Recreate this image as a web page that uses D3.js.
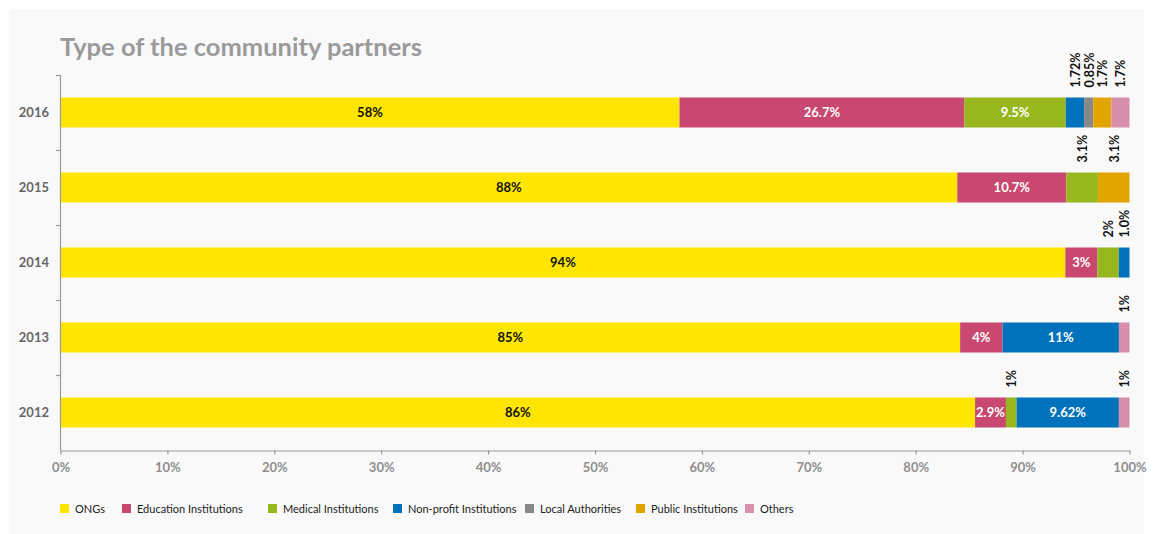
<!DOCTYPE html>
<html><head><meta charset="utf-8">
<script src="https://cdn.jsdelivr.net/npm/d3@7"></script>
<style>body{margin:0;background:#fff;}svg{display:block;font-family:Lato,"Open Sans",sans-serif;}</style>
</head><body><svg id="c" width="1154" height="534"></svg>
<script>
const years = ["2016","2015","2014","2013","2012"];
const seriesNames = ["ONGs","Education Institutions","Medical Institutions","Non-profit Institutions","Local Authorities","Public Institutions","Others"];
const seriesColors = ["#FFE600","#C9486F","#98B71E","#0072BB","#888888","#E2A500","#D88FAC"];
const ongs       = [58, 88, 94, 85, 86];
const education  = [26.7, 10.7, 3, 4, 2.9];
const medical    = [9.5, 3.1, 2, 0, 1];
const nonprofit  = [1.72, 0, 1.0, 11, 9.62];
const localAuth  = [0.85, 0, 0, 0, 0];
const publicInst = [1.7, 3.1, 0, 0, 0];
const others     = [1.7, 0, 0, 1, 1];
const valueLabels = [
  ["58%","26.7%","9.5%","1.72%","0.85%","1.7%","1.7%"],
  ["88%","10.7%","3.1%","","","3.1%",""],
  ["94%","3%","2%","1.0%","","",""],
  ["85%","4%","","11%","","","1%"],
  ["86%","2.9%","1%","9.62%","","","1%"]
];
// labels drawn rotated above the bar: [yearIndex, seriesIndex]
const outsideLabels = [[0,3],[0,4],[0,5],[0,6],[1,2],[1,5],[2,2],[2,3],[3,6],[4,2],[4,6]];
const xTicks = [0,10,20,30,40,50,60,70,80,90,100];
const title = "Type of the community partners";

const seriesData = [ongs, education, medical, nonprofit, localAuth, publicInst, others];
const table = years.map((y,i)=>{const o={year:y,i:i};seriesNames.forEach((s,j)=>o[s]=seriesData[j][i]);return o;});

const svg = d3.select("#c");
svg.append("rect").attr("x",9).attr("y",9).attr("width",1135).attr("height",525).attr("fill","#f9f9f9");

const x = d3.scaleLinear().domain([0,1]).range([60.5,1129.5]);
const y = d3.scaleBand().domain(years).range([75,450]).paddingInner(0.6).paddingOuter(0.3);

svg.append("text").attr("x",60).attr("y",56).attr("font-size",25.5).attr("font-weight",700)
  .attr("fill","#9a9a9a").text(title);

const stack = d3.stack().keys(seriesNames).offset(d3.stackOffsetExpand);
const stacked = stack(table);

const g = svg.append("g");
stacked.forEach((layer,j)=>{
  g.selectAll(null).data(layer).join("rect")
    .attr("x",d=>x(d[0])).attr("width",d=>Math.max(0,x(d[1])-x(d[0])))
    .attr("y",d=>y(d.data.year)).attr("height",y.bandwidth())
    .attr("fill",seriesColors[j]);
});

const isOutside=(i,j)=>outsideLabels.some(p=>p[0]===i&&p[1]===j);
stacked.forEach((layer,j)=>{
  layer.forEach((d,i)=>{
    const lab = valueLabels[i][j];
    if(!lab) return;
    const cx = (x(d[0])+x(d[1]))/2;
    if(isOutside(i,j)){
      const ty = y(d.data.year)-10;
      svg.append("text").attr("transform",`translate(${cx+5},${ty}) rotate(-90)`)
        .attr("font-size",12.5).attr("font-weight",700).attr("fill","#111").text(lab);
    } else {
      svg.append("text").attr("x",cx).attr("y",y(d.data.year)+y.bandwidth()/2+4.5)
        .attr("text-anchor","middle").attr("font-size",13).attr("font-weight",700)
        .attr("fill", j===0?"#111":"#fff").text(lab);
    }
  });
});

// Y axis
const yAxisG = svg.append("g");
yAxisG.append("line").attr("x1",60.5).attr("x2",60.5).attr("y1",75).attr("y2",450.5).attr("stroke","#999").attr("stroke-width",1.2);
const bounds = d3.range(0,years.length).map(i=>75+i*75);
yAxisG.selectAll(null).data(bounds).join("line")
  .attr("x1",56).attr("x2",60.5).attr("y1",d=>d+0.5).attr("y2",d=>d+0.5).attr("stroke","#999").attr("stroke-width",1.2);
yAxisG.selectAll(null).data(years).join("text")
  .attr("x",49).attr("y",d=>y(d)+y.bandwidth()/2+4.5).attr("text-anchor","end")
  .attr("font-size",13).attr("font-weight",700).attr("fill","#666").text(d=>d);

// X axis
const xAxis = d3.axisBottom(x).tickValues(xTicks.map(t=>t/100)).tickFormat(d=>Math.round(d*100)+"%").tickSize(4).tickSizeOuter(0);
const xg = svg.append("g").attr("transform","translate(0,450.5)").call(xAxis);
xg.select(".domain").attr("stroke","#999").attr("stroke-width",1.2);
xg.selectAll(".tick line").attr("stroke","#999").attr("stroke-width",1.2);
xg.selectAll(".tick text").attr("font-family","Lato, sans-serif").attr("font-size",13).attr("font-weight",700).attr("fill","#8e8e8e").attr("dy","1.1em");

// Legend
const legendX = [60,122,268,393,525,636,745];
const lg = svg.append("g");
seriesNames.forEach((s,j)=>{
  lg.append("rect").attr("x",legendX[j]).attr("y",504).attr("width",9).attr("height",9).attr("fill",seriesColors[j]);
  lg.append("text").attr("x",legendX[j]+15).attr("y",513).attr("font-size",11).attr("fill","#222").text(s);
});
</script></body></html>
